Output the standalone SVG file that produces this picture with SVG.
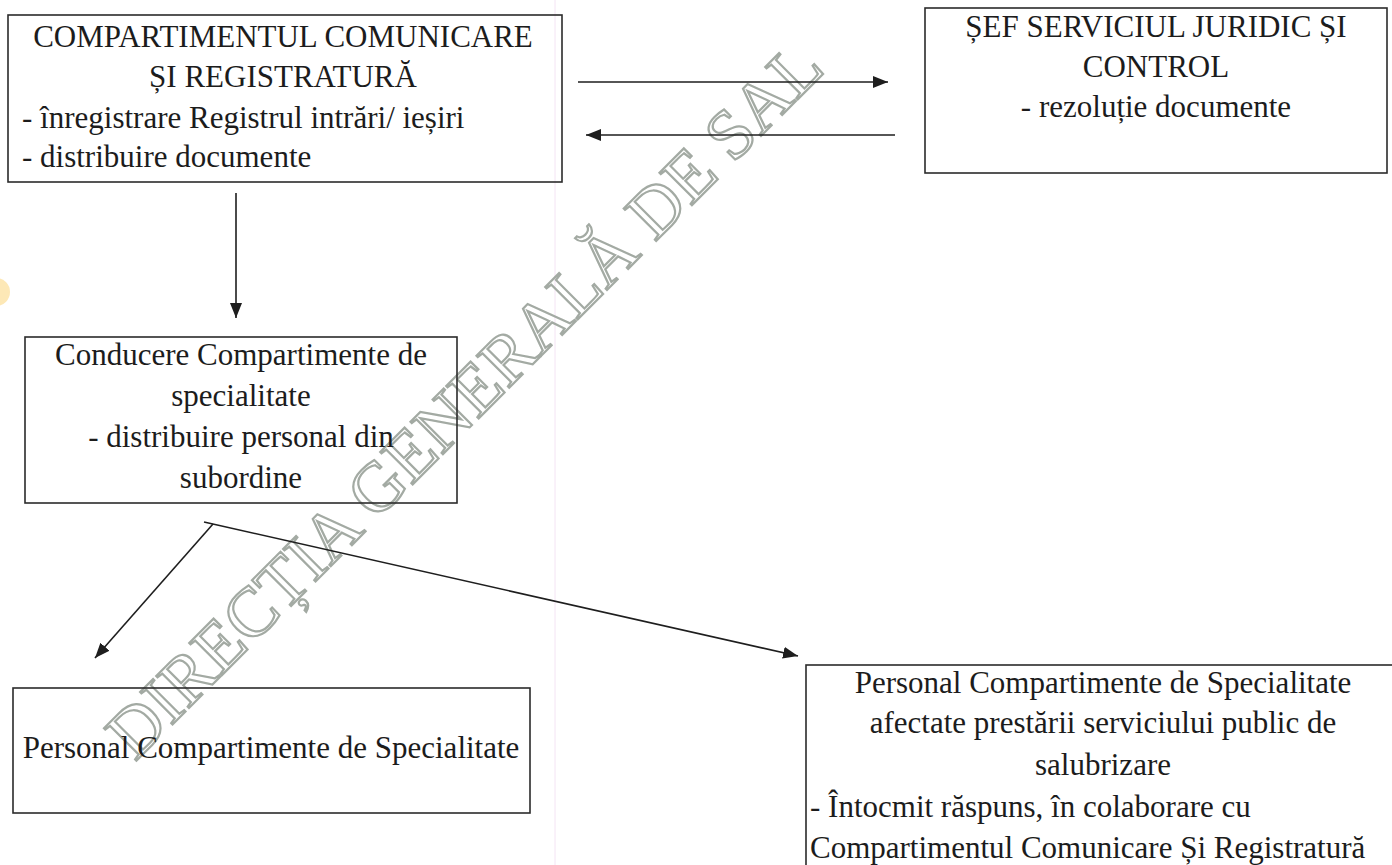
<svg xmlns="http://www.w3.org/2000/svg" width="1392" height="865" viewBox="0 0 1392 865">
  <style>
    .box { fill: none; stroke: #2b2b2b; stroke-width: 1.6; }
    .t { font-family: "Liberation Serif", Tinos, "Times New Roman", Times, "Nimbus Roman", "Nimbus Roman No9 L", FreeSerif, "DejaVu Serif", "Noto Serif", serif; font-size: 31px; fill: #1c1c1c; }
    .c { text-anchor: middle; }
    .conn { stroke: #1e1e1e; stroke-width: 1.6; fill: none; }
    .wm { font-family: "Liberation Serif", Tinos, "Times New Roman", Times, "DejaVu Serif", serif; font-size: 70px; fill: none; stroke: #a3aaa3; stroke-width: 2.2; }
  </style>
  <defs>
    <marker id="arr" markerUnits="userSpaceOnUse" markerWidth="16" markerHeight="12" refX="15" refY="6" orient="auto">
      <path d="M0,0 L15,6 L0,12 z" fill="#1e1e1e"/>
    </marker>
  </defs>
  <rect x="0" y="0" width="1392" height="865" fill="#ffffff"/>
  <line x1="555" y1="0" x2="555" y2="865" stroke="#f4e4f4" stroke-width="1"/>
  <circle cx="-4" cy="292" r="14" fill="#fde8b6"/>

  <g id="watermark">
    <text class="wm" transform="translate(135,762) rotate(-45)">DIRECȚIA GENERALĂ DE SAL</text>
  </g>

  <g id="node-registratura">
    <rect class="box" x="8" y="15" width="554" height="167"/>
    <text class="t c" x="283" y="47">COMPARTIMENTUL COMUNICARE</text>
    <text class="t c" x="283" y="87">ȘI REGISTRATURĂ</text>
    <text class="t" x="22" y="128">- înregistrare Registrul intrări/ ieșiri</text>
    <text class="t" x="22" y="167">- distribuire documente</text>
  </g>

  <g id="node-sef-juridic">
    <rect class="box" x="925" y="8" width="462" height="165"/>
    <text class="t c" x="1156" y="37">ȘEF SERVICIUL JURIDIC ȘI</text>
    <text class="t c" x="1156" y="77">CONTROL</text>
    <text class="t c" x="1156" y="117">- rezoluție documente</text>
  </g>

  <g id="node-conducere">
    <rect class="box" x="25" y="337" width="432" height="166"/>
    <text class="t c" x="241" y="365">Conducere Compartimente de</text>
    <text class="t c" x="241" y="406">specialitate</text>
    <text class="t c" x="241" y="447">- distribuire personal din</text>
    <text class="t c" x="241" y="488">subordine</text>
  </g>

  <g id="node-personal">
    <rect class="box" x="13" y="688" width="517" height="125"/>
    <text class="t c" x="271" y="758">Personal Compartimente de Specialitate</text>
  </g>

  <g id="node-personal-salubrizare">
    <rect class="box" x="806" y="665" width="600" height="220"/>
    <text class="t c" x="1103" y="693">Personal Compartimente de Specialitate</text>
    <text class="t c" x="1103" y="733">afectate prestării serviciului public de</text>
    <text class="t c" x="1103" y="775">salubrizare</text>
    <text class="t" x="810" y="817">- Întocmit răspuns, în colaborare cu</text>
    <text class="t" x="810" y="858">Compartimentul Comunicare Și Registratură</text>
  </g>

  <g id="connectors">
    <line class="conn" x1="578" y1="82" x2="888" y2="82" marker-end="url(#arr)"/>
    <line class="conn" x1="895" y1="135" x2="586" y2="135" marker-end="url(#arr)"/>
    <line class="conn" x1="236" y1="193" x2="236" y2="318" marker-end="url(#arr)"/>
    <line class="conn" x1="213" y1="524" x2="95" y2="658" marker-end="url(#arr)"/>
    <line class="conn" x1="204" y1="522" x2="798" y2="656" marker-end="url(#arr)"/>
  </g>
</svg>
